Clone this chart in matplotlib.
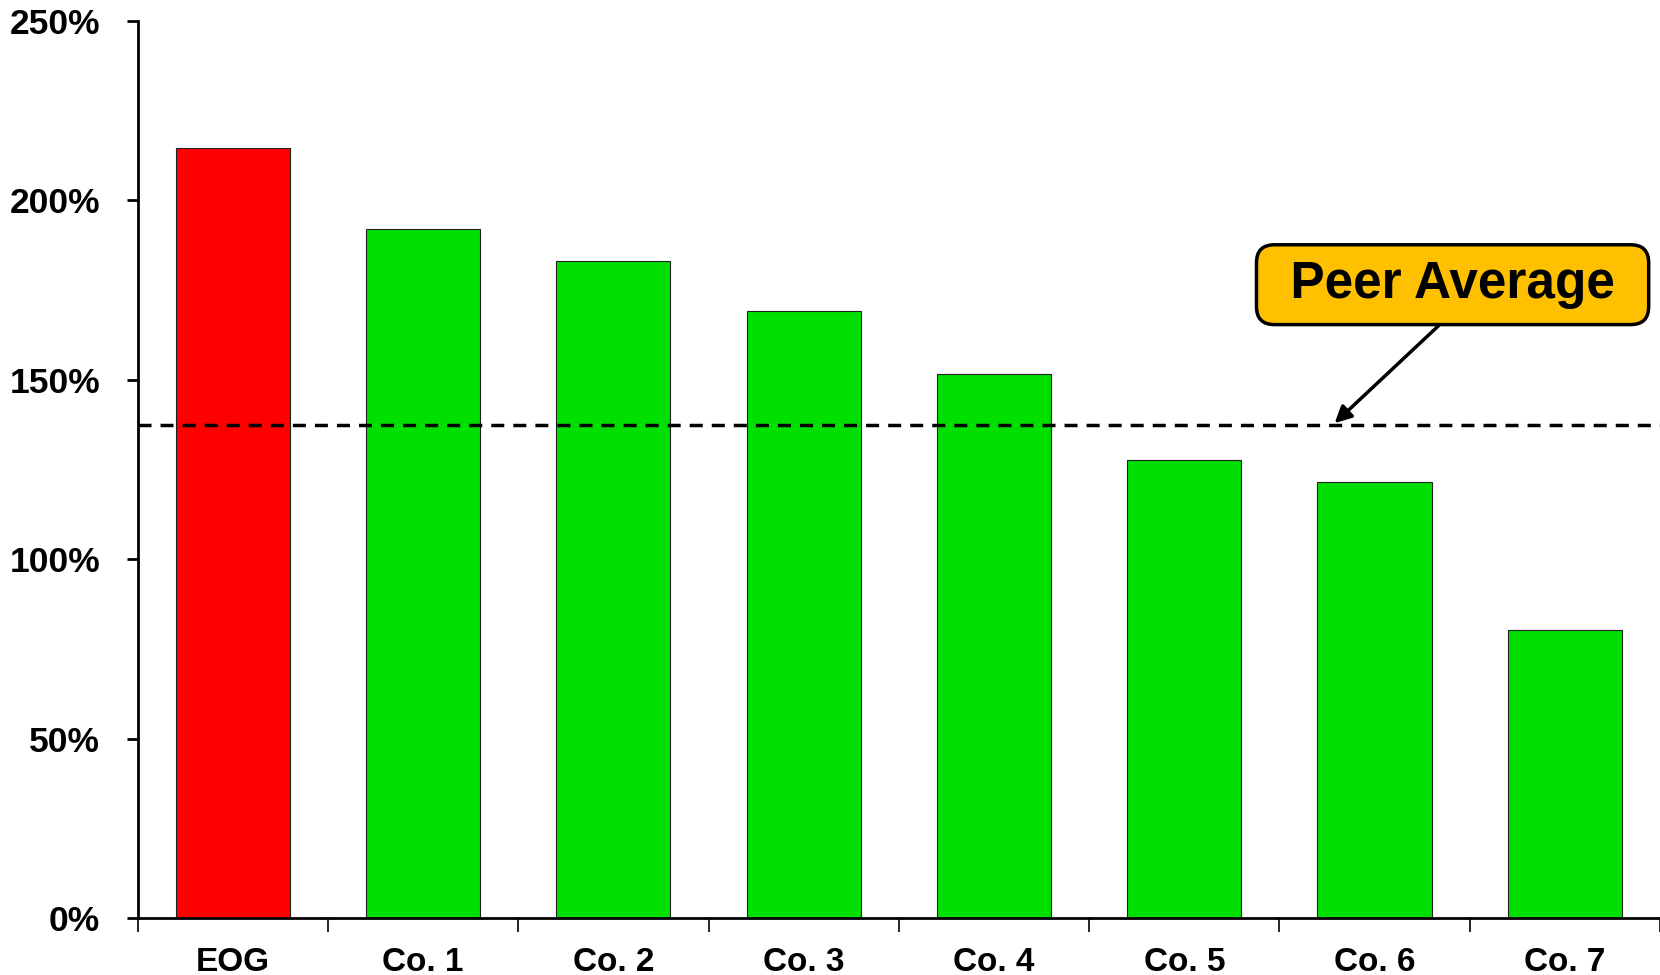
import matplotlib
matplotlib.use('Agg')
import matplotlib.pyplot as plt
from matplotlib.ticker import FixedLocator, FuncFormatter

companies = ['EOG', 'Co. 1', 'Co. 2', 'Co. 3', 'Co. 4', 'Co. 5', 'Co. 6', 'Co. 7']
values = [214.5, 192, 183, 169.2, 151.5, 127.7, 121.4, 80.3]
bar_colors = ['#FF0000'] + ['#00E000'] * 7
peer_average = 137.5
y_ticks = [0, 50, 100, 150, 200, 250]

plt.rcParams['font.family'] = ['Liberation Sans', 'DejaVu Sans']
plt.rcParams['font.weight'] = 'bold'

fig = plt.figure(figsize=(16.6, 9.75), dpi=100)
ax = fig.add_axes([0.0829, 0.0585, 0.9171, 0.92])

x = list(range(len(companies)))
ax.bar(x, values, width=0.6, color=bar_colors, edgecolor='#202020', linewidth=0.8, zorder=2)

ax.set_xlim(-0.5, len(companies) - 0.5)
ax.set_ylim(0, 250)

ax.axhline(peer_average, color='black', linewidth=2.5, linestyle=(0, (3.75, 2.6)), zorder=3)

# space + hair space on each side: the callout box is wider than tall padding
ax.annotate(' \u200aPeer Average\u200a ', xy=(5.79, 137.9), xytext=(6.41, 176.5),
            fontsize=37, fontweight='bold', ha='center', va='center',
            bbox=dict(boxstyle='round,pad=0.3,rounding_size=0.35', fc='#FFC000', ec='black', lw=2.5),
            arrowprops=dict(arrowstyle='-|>', color='black', lw=2.5, mutation_scale=25,
                            shrinkA=0, shrinkB=0, relpos=(0.51, 0)),
            zorder=4)

for side in ['top', 'right']:
    ax.spines[side].set_visible(False)
for side in ['left', 'bottom']:
    ax.spines[side].set_linewidth(2)

ax.set_yticks(y_ticks)
ax.yaxis.set_major_formatter(FuncFormatter(lambda v, p: '%d%%' % v))
ax.tick_params(axis='y', direction='out', length=8, width=2, pad=19, labelsize=25.5)

ax.set_xticks(x)
ax.set_xticklabels(companies)
ax.xaxis.set_minor_locator(FixedLocator([i - 0.5 for i in range(len(companies) + 1)]))
ax.tick_params(axis='x', which='major', length=0, pad=21, labelsize=24)
ax.tick_params(axis='x', which='minor', direction='out', length=10, width=1.2)
for lbl in ax.get_xticklabels() + ax.get_yticklabels():
    lbl.set_fontweight('bold')

fig.savefig('out.png', dpi=100)
